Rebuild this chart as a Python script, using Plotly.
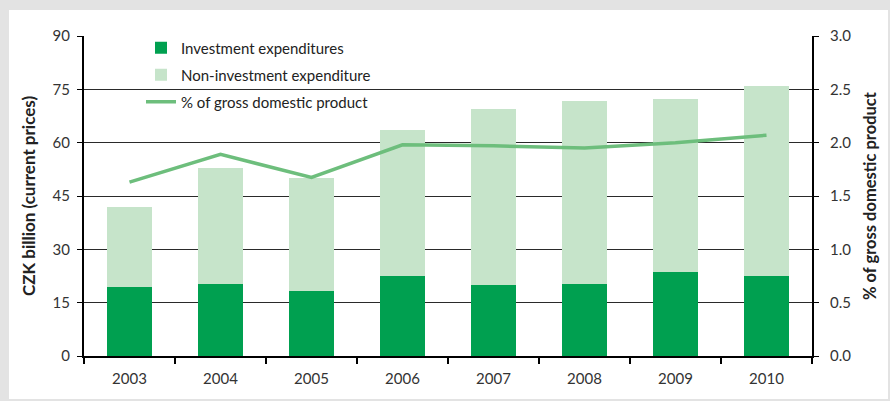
import plotly.graph_objects as go

# data
years = ['2003', '2004', '2005', '2006', '2007', '2008', '2009', '2010']
investment = [19.4, 20.2, 18.3, 22.5, 19.9, 20.2, 23.6, 22.5]
total = [42.0, 52.9, 50.0, 63.5, 69.5, 71.8, 72.3, 75.9]
non_investment = [round(t - i, 1) for t, i in zip(total, investment)]
gdp_share = [1.63, 1.89, 1.675, 1.98, 1.97, 1.95, 2.0, 2.07]

y_ticks = [0, 15, 30, 45, 60, 75, 90]
y2_ticks = [0.0, 0.5, 1.0, 1.5, 2.0, 2.5, 3.0]

W, H = 890, 401
L, R, T, B = 84, 812, 36, 356   # plot area in pixels


def px(x):
    return (x - L) / (R - L)


def py(y):
    return (B - y) / (B - T)


font = 'Lato, "Open Sans", sans-serif'

fig = go.Figure()
fig.add_trace(go.Bar(x=years, y=investment, name='Investment expenditures', showlegend=True,
                     marker=dict(color='#00a050', line=dict(width=0)), legend='legend'))
fig.add_trace(go.Bar(x=years, y=non_investment, name='Non-investment expenditure', showlegend=True,
                     marker=dict(color='#c6e4ca', line=dict(width=0)), legend='legend2'))
fig.add_trace(go.Scatter(x=years, y=gdp_share, name='% of gross domestic product', yaxis='y2',
                         showlegend=True, mode='lines', line=dict(color='#6dbe7c', width=3.5),
                         legend='legend3'))

leg = dict(x=px(141), xanchor='left', yanchor='middle', bgcolor='rgba(0,0,0,0)',
           font=dict(size=15, color='#222', family=font))

fig.update_layout(
    width=W, height=H,
    margin=dict(l=L, r=W - R, t=T, b=H - B, pad=0),
    barmode='stack', bargap=0.5, showlegend=True,
    paper_bgcolor='#e3e3e3', plot_bgcolor='white',
    font=dict(family=font, size=15, color='#222'),
    legend=dict(leg, y=py(48)),
    legend2=dict(leg, y=py(75)),
    legend3=dict(leg, y=py(102)),
    xaxis=dict(showline=True, linecolor='black', linewidth=2, ticks='outside', tickson='boundaries',
               ticklen=6, tickcolor='black', tickwidth=1.5, ticklabelstandoff=8,
               tickfont=dict(size=15, color='#333')),
    yaxis=dict(range=[0, 90], tickvals=y_ticks, showline=True, linecolor='black', linewidth=2,
               ticks='outside', ticklen=5, tickcolor='black', showgrid=True, gridcolor='#2a2a2a',
               gridwidth=1, zeroline=False, ticklabelstandoff=4, tickfont=dict(size=15, color='#333'),
               title=dict(text='<b>CZK billion (current prices)</b>', font=dict(size=17, color='#222'),
                          standoff=13)),
    yaxis2=dict(range=[0, 3], tickvals=y2_ticks, tickformat='.1f', overlaying='y', side='right',
                showline=True, linecolor='black', linewidth=2, ticks='outside', ticklen=5,
                tickcolor='black', showgrid=False, zeroline=False, ticklabelstandoff=8,
                tickfont=dict(size=15, color='#333'),
                title=dict(text='<b>% of gross domestic product</b>', font=dict(size=16.5, color='#222'),
                           standoff=14)),
    shapes=[dict(type='rect', xref='paper', yref='paper', layer='below',
                 x0=px(9), x1=px(888), y0=py(399), y1=py(10),
                 fillcolor='white', line=dict(width=0))],
)

fig.write_html("out.html", config={'displayModeBar': False},
               post_script="document.body.style.margin='0';")
